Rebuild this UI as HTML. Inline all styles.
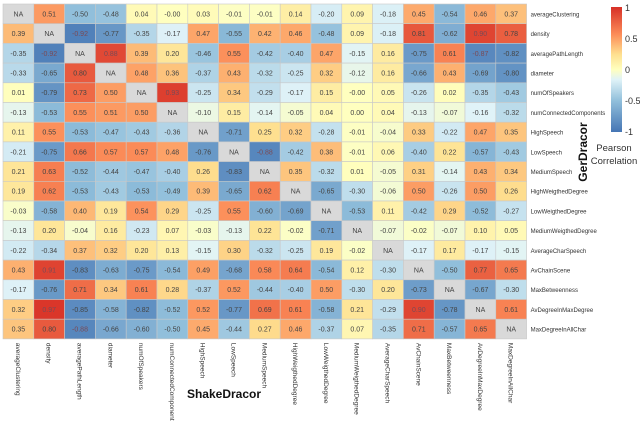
<!DOCTYPE html>
<html><head><meta charset="utf-8">
<style>
body{margin:0;background:#fff;}
svg{display:block;font-family:"Liberation Sans",Arial,sans-serif;}
</style></head>
<body>
<svg id="chart" width="640" height="421" viewBox="0 0 640 421" xmlns="http://www.w3.org/2000/svg">
<defs>
<linearGradient id="cbar" x1="0" y1="1" x2="0" y2="0">
<stop offset="0" stop-color="#4575b4"/>
<stop offset="0.25" stop-color="#91bfdb"/>
<stop offset="0.42" stop-color="#e0f3f8"/>
<stop offset="0.5" stop-color="#ffffbf"/>
<stop offset="0.62" stop-color="#fee090"/>
<stop offset="0.78" stop-color="#fc8d59"/>
<stop offset="1" stop-color="#d73027"/>
</linearGradient>
</defs>
<g id="cells"></g>
<g id="xlabels"></g>
<g id="ylabels"></g>
<text x="224" y="398" font-size="12" font-weight="bold" text-anchor="middle" fill="#111">ShakeDracor</text>
<text transform="translate(587,152) rotate(-90)" font-size="12" font-weight="bold" text-anchor="middle" fill="#111">GerDracor</text>
<g>
<rect x="611" y="7" width="11" height="125" fill="url(#cbar)"/>
<text x="625" y="11" font-size="9" fill="#333">1</text>
<text x="625" y="42" font-size="9" fill="#333">0.5</text>
<text x="625" y="73" font-size="9" fill="#333">0</text>
<text x="625" y="104" font-size="9" fill="#333">-0.5</text>
<text x="625" y="135" font-size="9" fill="#333">-1</text>
<text x="614" y="151" font-size="9.5" text-anchor="middle" fill="#333">Pearson</text>
<text x="614" y="164" font-size="9.5" text-anchor="middle" fill="#333">Correlation</text>
</g>
</svg>
<script>
const categories = ["averageClustering","density","averagePathLength","diameter","numOfSpeakers","numConnectedComponents","HighSpeech","LowSpeech","MediumSpeech","HighWeigthedDegree","LowWeigthedDegree","MediumWeigthedDegree","AverageCharSpeech","AvChainScene","MaxBetweenness","AvDegreeInMaxDegree","MaxDegreeInAllChar"];
const row0 = [null,.51,-.50,-.48,.04,-.00,.03,-.01,-.01,.14,-.20,.09,-.18,.45,-.54,.46,.37];
const row1 = [.39,null,-.92,-.77,-.35,-.17,.47,-.55,.42,.46,-.48,.09,-.18,.81,-.62,.90,.78];
const row2 = [-.35,-.92,null,.88,.39,.20,-.46,.55,-.42,-.40,.47,-.15,.16,-.75,.61,-.87,-.82];
const row3 = [-.33,-.65,.80,null,.48,.36,-.37,.43,-.32,-.25,.32,-.12,.16,-.66,.43,-.69,-.80];
const row4 = [.01,-.79,.73,.50,null,.93,-.25,.34,-.29,-.17,.15,-.00,.05,-.26,.02,-.35,-.43];
const row5 = [-.13,-.53,.55,.51,.50,null,-.10,.15,-.14,-.05,.04,.00,.04,-.13,-.07,-.16,-.32];
const row6 = [.11,.55,-.53,-.47,-.43,-.36,null,-.71,.25,.32,-.28,-.01,-.04,.33,-.22,.47,.35];
const row7 = [-.21,-.75,.66,.57,.57,.48,-.76,null,-.88,-.42,.38,-.01,.06,-.40,.22,-.57,-.43];
const row8 = [.21,.63,-.52,-.44,-.47,-.40,.26,-.83,null,.35,-.32,.01,-.05,.31,-.14,.43,.34];
const row9 = [.19,.62,-.53,-.43,-.53,-.49,.39,-.65,.62,null,-.65,-.30,-.06,.50,-.26,.50,.26];
const row10 = [-.03,-.58,.40,.19,.54,.29,-.25,.55,-.60,-.69,null,-.53,.11,-.42,.29,-.52,-.27];
const row11 = [-.13,.20,-.04,.16,-.23,.07,-.03,-.13,.22,-.02,-.71,null,-.07,-.02,-.07,.10,.05];
const row12 = [-.22,-.34,.37,.32,.20,.13,-.15,.30,-.32,-.25,.19,-.02,null,-.17,.17,-.17,-.15];
const row13 = [.43,.91,-.83,-.63,-.75,-.54,.49,-.68,.58,.64,-.54,.12,-.30,null,-.50,.77,.65];
const row14 = [-.17,-.76,.71,.34,.61,.28,-.37,.52,-.44,-.40,.50,-.30,.20,-.73,null,-.67,-.30];
const row15 = [.32,.97,-.85,-.58,-.82,-.52,.52,-.77,.69,.61,-.58,.21,-.29,.90,-.78,null,.61];
const row16 = [.35,.80,-.88,-.66,-.60,-.50,.45,-.44,.27,.46,-.37,.07,-.35,.71,-.57,.65,null];
const values = [row0,row1,row2,row3,row4,row5,row6,row7,row8,row9,row10,row11,row12,row13,row14,row15,row16];

const NS="http://www.w3.org/2000/svg";
const X0=3,Y0=4,CW=30.8,CH=19.7;
function xPos(i){return X0+i*CW;}
function yPos(j){return Y0+j*CH;}
const stops=[[-1,[69,117,180]],[-0.5,[145,191,219]],[-0.16,[224,243,248]],[0,[255,255,191]],[0.25,[254,224,144]],[0.56,[252,141,89]],[1,[215,48,39]]];
function color(v){
  for(let k=0;k<stops.length-1;k++){
    const [a,ca]=stops[k],[b,cb]=stops[k+1];
    if(v<=b){const t=(v-a)/(b-a);const c=ca.map((x,i)=>Math.round(x+(cb[i]-x)*t));return `rgb(${c.join(',')})`;}
  }
  return "rgb(215,48,39)";
}
function fmt(v){let s=Math.abs(v).toFixed(2);return (v<0||Object.is(v,-0))?"-"+s:s;}
const cells=document.getElementById('cells');
values.forEach((row,j)=>{
  row.forEach((v,i)=>{
    const r=document.createElementNS(NS,'rect');
    
    
    r.setAttribute('x',xPos(i));r.setAttribute('y',yPos(j));
    r.setAttribute('width',CW);r.setAttribute('height',CH);
    r.setAttribute('fill',v===null?'#d9d9d9':color(v));
    r.setAttribute('stroke','#c8c8c8');r.setAttribute('stroke-width','0.6');
    cells.appendChild(r);
    const t=document.createElementNS(NS,'text');
    
    
    t.setAttribute('x',xPos(i)+CW/2);t.setAttribute('y',yPos(j)+CH/2+2.5);
    t.setAttribute('font-size','7');t.setAttribute('text-anchor','middle');
    t.setAttribute('fill',(v!==null&&Math.abs(v)>0.85)?'#7a4a55':'#444');
    t.textContent=v===null?'NA':fmt(v);
    cells.appendChild(t);
  });
});
const xl=document.getElementById('xlabels'),yl=document.getElementById('ylabels');
categories.forEach((c,i)=>{
  const t=document.createElementNS(NS,'text');
  
  
  const x=xPos(i)+CW/2-2.5,y=yPos(17)+4;
  t.setAttribute('transform',`translate(${x},${y}) rotate(90)`);
  t.setAttribute('font-size','6.5');t.setAttribute('fill','#333');
  t.textContent=c;xl.appendChild(t);
  const u=document.createElementNS(NS,'text');
  
  
  u.setAttribute('x',xPos(17)+4);u.setAttribute('y',yPos(i)+CH/2+2.5);
  u.setAttribute('font-size','6');u.setAttribute('fill','#333');
  u.textContent=c;yl.appendChild(u);
});
</script>
</body></html>
